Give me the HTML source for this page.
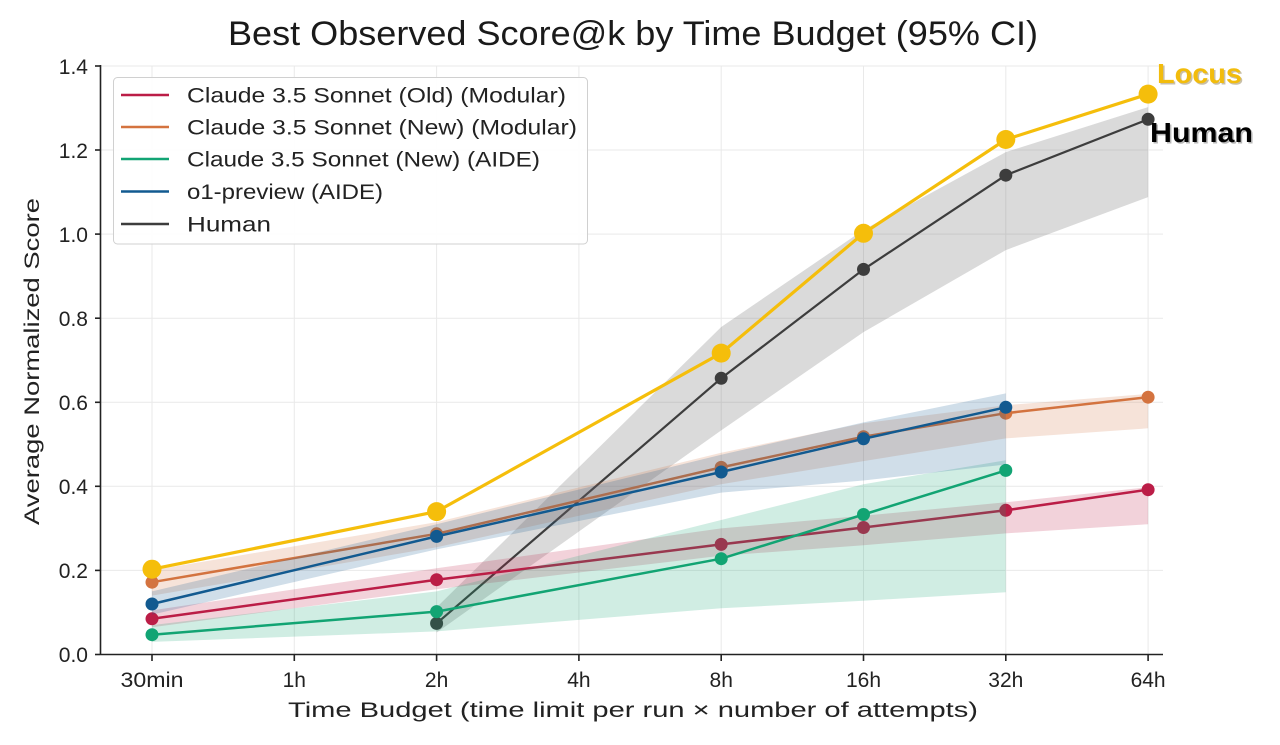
<!DOCTYPE html>
<html>
<head>
<meta charset="utf-8">
<style>
html,body{margin:0;padding:0;background:#fff;}
svg{display:block;}
text{font-family:"Liberation Sans","DejaVu Sans",sans-serif;}
</style>
</head>
<body>
<svg width="1280" height="745" viewBox="0 0 1280 745" xmlns="http://www.w3.org/2000/svg">
<rect width="1280" height="745" fill="#fff"/>

<!-- Title -->
<text x="228" y="45" font-size="34" fill="#1a1a1a" textLength="810" lengthAdjust="spacingAndGlyphs">Best Observed Score@k by Time Budget (95% CI)</text>

<!-- Grid -->
<g stroke="#e9e9e9" stroke-width="1">
  <line x1="152" y1="66" x2="152" y2="654"/>
  <line x1="294.3" y1="66" x2="294.3" y2="654"/>
  <line x1="436.6" y1="66" x2="436.6" y2="654"/>
  <line x1="578.9" y1="66" x2="578.9" y2="654"/>
  <line x1="721.2" y1="66" x2="721.2" y2="654"/>
  <line x1="863.5" y1="66" x2="863.5" y2="654"/>
  <line x1="1005.8" y1="66" x2="1005.8" y2="654"/>
  <line x1="1148.1" y1="66" x2="1148.1" y2="654"/>
  <line x1="100" y1="570.4" x2="1163" y2="570.4"/>
  <line x1="100" y1="486.3" x2="1163" y2="486.3"/>
  <line x1="100" y1="402.3" x2="1163" y2="402.3"/>
  <line x1="100" y1="318.2" x2="1163" y2="318.2"/>
  <line x1="100" y1="234.1" x2="1163" y2="234.1"/>
  <line x1="100" y1="150" x2="1163" y2="150"/>
  <line x1="100" y1="66" x2="1163" y2="66"/>
</g>

<!-- Human -->
<polygon fill="#555" fill-opacity="0.22" points="436.6,607.4 721.2,327 863.5,229.9 1005.8,152.1 1148.1,107.1 1148.1,197.1 1005.8,250.1 863.5,332.1 721.2,430.4 436.6,632.6"/>
<polyline fill="none" stroke="#3d3d3d" stroke-width="2.2" stroke-linejoin="round" points="436.6,623.4 721.2,378.3 863.5,269.4 1005.8,175.2 1148.1,119.3"/>
<g fill="#3d3d3d">
  <circle cx="436.6" cy="623.4" r="6.5"/><circle cx="721.2" cy="378.3" r="6.5"/><circle cx="863.5" cy="269.4" r="6.5"/><circle cx="1005.8" cy="175.2" r="6.5"/><circle cx="1148.1" cy="119.3" r="6.5"/>
</g>

<!-- Red: Old Modular -->
<polyline fill="none" stroke="#BB1D47" stroke-width="2.5" stroke-linejoin="round" points="152,618.8 436.6,579.7 721.2,544.4 863.5,527.5 1005.8,510.3 1148.1,489.7"/>
<g fill="#BB1D47">
  <circle cx="152" cy="618.8" r="6.5"/><circle cx="436.6" cy="579.7" r="6.5"/><circle cx="721.2" cy="544.4" r="6.5"/><circle cx="863.5" cy="527.5" r="6.5"/><circle cx="1005.8" cy="510.3" r="6.5"/><circle cx="1148.1" cy="489.7" r="6.5"/>
</g>
<polygon fill="#BE1E48" fill-opacity="0.2" points="152,610.4 436.6,568.3 721.2,528.4 863.5,515.8 1005.8,502.3 1148.1,487.2 1148.1,524.2 1005.8,533.4 863.5,545.2 721.2,555.7 436.6,589.3 152,627.2"/>

<!-- Orange: New Modular -->
<polyline fill="none" stroke="#D4733F" stroke-width="2.5" stroke-linejoin="round" points="152,582.2 436.6,533.8 721.2,467.4 863.5,436.7 1005.8,413.2 1148.1,397.2"/>
<g fill="#D4733F">
  <circle cx="152" cy="582.2" r="6.5"/><circle cx="436.6" cy="533.8" r="6.5"/><circle cx="721.2" cy="467.4" r="6.5"/><circle cx="863.5" cy="436.7" r="6.5"/><circle cx="1005.8" cy="413.2" r="6.5"/><circle cx="1148.1" cy="397.2" r="6.5"/>
</g>
<polygon fill="#D4733F" fill-opacity="0.2" points="152,570.4 436.6,522.1 721.2,452.7 863.5,423.3 1005.8,405.2 1148.1,393.9 1148.1,428.3 1005.8,438.4 863.5,461.1 721.2,484.2 436.6,547.3 152,595.6"/>

<!-- Green: New AIDE -->
<polyline fill="none" stroke="#12A474" stroke-width="2.5" stroke-linejoin="round" points="152,634.7 436.6,611.6 721.2,558.7 863.5,514.5 1005.8,470.4"/>
<g fill="#12A474">
  <circle cx="152" cy="634.7" r="6.5"/><circle cx="436.6" cy="611.6" r="6.5"/><circle cx="721.2" cy="558.7" r="6.5"/><circle cx="863.5" cy="514.5" r="6.5"/><circle cx="1005.8" cy="470.4" r="6.5"/>
</g>
<polygon fill="#12A474" fill-opacity="0.2" points="152,625.1 436.6,591.4 721.2,520 863.5,484.2 1005.8,460.3 1005.8,592.3 863.5,600.7 721.2,608.3 436.6,631.4 152,641.9"/>

<!-- Blue: o1-preview -->
<polyline fill="none" stroke="#125A90" stroke-width="2.5" stroke-linejoin="round" points="152,604 436.6,536.4 721.2,472 863.5,438.8 1005.8,407.3"/>
<g fill="#125A90">
  <circle cx="152" cy="604" r="6.5"/><circle cx="436.6" cy="536.4" r="6.5"/><circle cx="721.2" cy="472" r="6.5"/><circle cx="863.5" cy="438.8" r="6.5"/><circle cx="1005.8" cy="407.3" r="6.5"/>
</g>
<polygon fill="#125A90" fill-opacity="0.2" points="152,591.4 436.6,524.2 721.2,454.8 863.5,422.4 1005.8,393.4 1005.8,464.5 863.5,480.5 721.2,492.6 436.6,549.4 152,614.6"/>

<!-- Locus -->
<polyline fill="none" stroke="#F5BE0B" stroke-width="3.2" stroke-linejoin="round" points="152,569.2 436.6,511.6 721.2,353.1 863.5,233.3 1005.8,139.5 1148.1,94.1"/>
<g fill="#F5BE0B">
  <circle cx="152" cy="569.2" r="9.5"/><circle cx="436.6" cy="511.6" r="9.5"/><circle cx="721.2" cy="353.1" r="9.5"/><circle cx="863.5" cy="233.3" r="9.5"/><circle cx="1005.8" cy="139.5" r="9.5"/><circle cx="1148.1" cy="94.1" r="9.5"/>
</g>

<!-- Annotation labels -->
<text x="1158.5" y="84.5" font-size="28" font-weight="bold" fill="#9a8a60" fill-opacity="0.55" textLength="85" lengthAdjust="spacingAndGlyphs">Locus</text>
<text x="1157" y="83" font-size="28" font-weight="bold" fill="#F2BC0C" textLength="85" lengthAdjust="spacingAndGlyphs">Locus</text>
<text x="1151.5" y="143.5" font-size="28" font-weight="bold" fill="#888" fill-opacity="0.6" textLength="103" lengthAdjust="spacingAndGlyphs">Human</text>
<text x="1150" y="142" font-size="28" font-weight="bold" fill="#000" textLength="103" lengthAdjust="spacingAndGlyphs">Human</text>

<!-- Axes -->
<g stroke="#222" stroke-width="1.6">
  <line x1="100.5" y1="65" x2="100.5" y2="655"/>
  <line x1="100" y1="654.5" x2="1163" y2="654.5"/>
  <line x1="95" y1="654.5" x2="100" y2="654.5"/>
  <line x1="95" y1="570.4" x2="100" y2="570.4"/>
  <line x1="95" y1="486.3" x2="100" y2="486.3"/>
  <line x1="95" y1="402.3" x2="100" y2="402.3"/>
  <line x1="95" y1="318.2" x2="100" y2="318.2"/>
  <line x1="95" y1="234.1" x2="100" y2="234.1"/>
  <line x1="95" y1="150" x2="100" y2="150"/>
  <line x1="95" y1="66" x2="100" y2="66"/>
  <line x1="152" y1="655" x2="152" y2="661"/>
  <line x1="294.3" y1="655" x2="294.3" y2="661"/>
  <line x1="436.6" y1="655" x2="436.6" y2="661"/>
  <line x1="578.9" y1="655" x2="578.9" y2="661"/>
  <line x1="721.2" y1="655" x2="721.2" y2="661"/>
  <line x1="863.5" y1="655" x2="863.5" y2="661"/>
  <line x1="1005.8" y1="655" x2="1005.8" y2="661"/>
  <line x1="1148.1" y1="655" x2="1148.1" y2="661"/>
</g>

<!-- Y tick labels -->
<g font-size="21" fill="#222" text-anchor="end">
  <text x="88" y="662">0.0</text>
  <text x="88" y="578">0.2</text>
  <text x="88" y="494">0.4</text>
  <text x="88" y="410">0.6</text>
  <text x="88" y="326">0.8</text>
  <text x="88" y="242">1.0</text>
  <text x="88" y="158">1.2</text>
  <text x="88" y="74">1.4</text>
</g>

<!-- X tick labels -->
<g font-size="21" fill="#222" text-anchor="middle">
  <text x="152" y="687" textLength="63" lengthAdjust="spacingAndGlyphs">30min</text>
  <text x="294.3" y="687">1h</text>
  <text x="436.6" y="687">2h</text>
  <text x="578.9" y="687">4h</text>
  <text x="721.2" y="687">8h</text>
  <text x="863.5" y="687">16h</text>
  <text x="1005.8" y="687">32h</text>
  <text x="1148.1" y="687">64h</text>
</g>

<!-- Axis labels -->
<text x="288" y="717" font-size="21" fill="#222" textLength="690" lengthAdjust="spacingAndGlyphs">Time Budget (time limit per run × number of attempts)</text>
<text transform="translate(39,525) rotate(-90)" x="0" y="0" font-size="21" fill="#222" textLength="327" lengthAdjust="spacingAndGlyphs">Average Normalized Score</text>

<!-- Legend -->
<rect x="113.5" y="77.5" width="474" height="166.5" rx="4" ry="4" fill="#fff" fill-opacity="0.92" stroke="#d0d0d0" stroke-width="1"/>
<g stroke-width="2.5">
  <line x1="121" y1="95" x2="169" y2="95" stroke="#BB1D47"/>
  <line x1="121" y1="127" x2="169" y2="127" stroke="#D4733F"/>
  <line x1="121" y1="159" x2="169" y2="159" stroke="#12A474"/>
  <line x1="121" y1="191.5" x2="169" y2="191.5" stroke="#125A90"/>
  <line x1="121" y1="224" x2="169" y2="224" stroke="#3d3d3d"/>
</g>
<g font-size="21" fill="#222">
  <text x="187" y="102.5" textLength="379" lengthAdjust="spacingAndGlyphs">Claude 3.5 Sonnet (Old) (Modular)</text>
  <text x="187" y="134.5" textLength="390" lengthAdjust="spacingAndGlyphs">Claude 3.5 Sonnet (New) (Modular)</text>
  <text x="187" y="166.5" textLength="353" lengthAdjust="spacingAndGlyphs">Claude 3.5 Sonnet (New) (AIDE)</text>
  <text x="187" y="199" textLength="196" lengthAdjust="spacingAndGlyphs">o1-preview (AIDE)</text>
  <text x="187" y="231.5" textLength="84" lengthAdjust="spacingAndGlyphs">Human</text>
</g>
</svg>
</body>
</html>
